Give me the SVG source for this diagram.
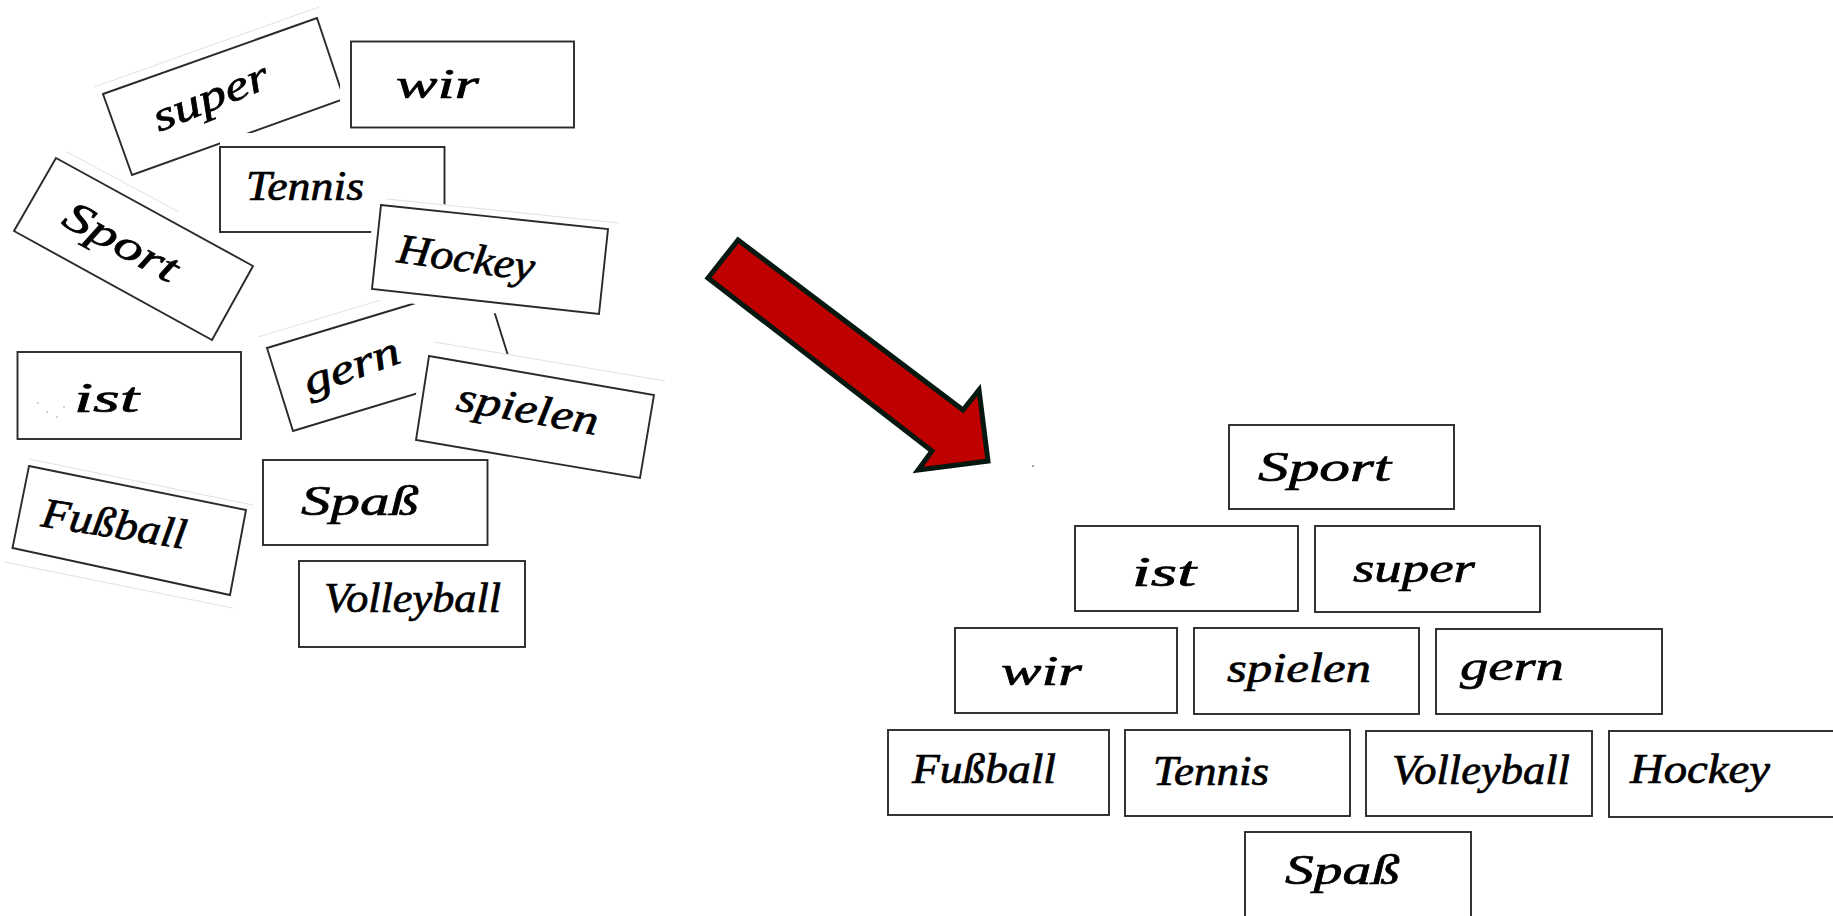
<svg xmlns="http://www.w3.org/2000/svg" width="1833" height="916" viewBox="0 0 1833 916">
<style>
.paper{fill:#fff;stroke:none}
.card{fill:#fff;stroke:#2a2a2a;stroke-width:1.9}
.edge{fill:none;stroke:#d8d8d8;stroke-width:.8}
.speck{fill:#c4c4c4}
.word{font-family:"Liberation Serif","DejaVu Serif",serif;font-style:italic;font-size:42px;fill:#000;stroke:#000;stroke-width:.7}
.head{fill:#bf0000;stroke:#04180f;stroke-width:5;stroke-linejoin:miter}
</style>
<rect width="1833" height="916" fill="#fff"/>
<g id="scattered">
<g id="s-sport"><line class="edge" x1="67" y1="152" x2="179" y2="212"/><polygon class="card" points="56,158 253,266 212,340 14,231"/><text class="word" x="60" y="224" textLength="125" lengthAdjust="spacingAndGlyphs" transform="rotate(28.5 60 224)">Sport</text></g>
<g id="s-super"><line class="edge" x1="94" y1="87" x2="319" y2="7"/><polygon class="card" points="103,94 317,18 344,99 132,175"/><text class="word" x="159" y="132" textLength="122" lengthAdjust="spacingAndGlyphs" transform="rotate(-22 159 132)">super</text></g>
<g id="s-wir"><rect class="paper" x="340" y="30" width="240" height="104"/><rect class="card" x="351" y="41.5" width="223" height="86"/><text class="word" x="396" y="98" textLength="83" lengthAdjust="spacingAndGlyphs">wir</text></g>
<g id="s-tennis"><rect class="paper" x="220" y="133" width="232" height="105"/><rect class="card" x="220" y="147" width="224.500" height="85"/><text class="word" x="246" y="200" textLength="118" lengthAdjust="spacingAndGlyphs">Tennis</text></g>
<g id="s-gern"><line class="edge" x1="258" y1="337" x2="381" y2="300"/><polygon class="card" points="267,348 485,282 511,365 293,431"/><text class="word" x="309" y="396" textLength="100" lengthAdjust="spacingAndGlyphs" transform="rotate(-20 309 396)">gern</text></g>
<g id="s-hockey"><polygon class="paper" points="375,197 619,223 604,326 364,298"/><line class="edge" x1="387" y1="199" x2="619" y2="223"/><polygon class="card" points="381,205 608,229 599,314 372,289"/><text class="word" x="396" y="262" textLength="138" lengthAdjust="spacingAndGlyphs" transform="rotate(8 396 262)">Hockey</text></g>
<g id="s-spielen"><polygon class="paper" points="425,340 665,381 647,490 407,448"/><line class="edge" x1="434" y1="342" x2="665" y2="381"/><polygon class="card" points="429,356 654,395 640,478 416,440"/><text class="word" x="455" y="410" textLength="143" lengthAdjust="spacingAndGlyphs" transform="rotate(10 455 410)">spielen</text></g>
<g id="s-ist"><rect class="card" x="17.500" y="352" width="223.500" height="87"/><circle class="speck" cx="38" cy="403" r="1"/><circle class="speck" cx="47" cy="412" r="1"/><circle class="speck" cx="57" cy="417" r="1"/><circle class="speck" cx="64" cy="407" r="1"/><text class="word" x="74" y="412" textLength="65" lengthAdjust="spacingAndGlyphs">ist</text></g>
<g id="s-fussball"><line class="edge" x1="29" y1="459" x2="253" y2="505"/><line class="edge" x1="4" y1="562" x2="233" y2="608"/><polygon class="card" points="29,466 246,510 230,595 12.500,548"/><text class="word" x="40" y="526" textLength="146" lengthAdjust="spacingAndGlyphs" transform="rotate(9 40 526)">Fußball</text></g>
<g id="s-spass"><rect class="card" x="263" y="460" width="224.500" height="85"/><text class="word" x="301" y="515" textLength="118" lengthAdjust="spacingAndGlyphs">Spaß</text></g>
<g id="s-volleyball"><rect class="card" x="299" y="561" width="226" height="86"/><text class="word" x="324" y="612" textLength="177" lengthAdjust="spacingAndGlyphs">Volleyball</text></g>
</g>
<g id="connectors">
<polygon class="head" points="738,240 708,278 932,451 918,470 988,461 979,390 963,410"/>
</g>
<circle cx="1033" cy="466" r=".9" fill="#777"/>
<g id="pyramid">
<g id="p-sport"><rect class="card" x="1229" y="425" width="225" height="84"/><text class="word" x="1258" y="481" textLength="133" lengthAdjust="spacingAndGlyphs">Sport</text></g>
<g id="p-ist"><rect class="card" x="1075" y="526" width="223" height="85"/><text class="word" x="1132" y="586" textLength="64" lengthAdjust="spacingAndGlyphs">ist</text></g>
<g id="p-super"><rect class="card" x="1315" y="526" width="225" height="86"/><text class="word" x="1353" y="582" textLength="122" lengthAdjust="spacingAndGlyphs">super</text></g>
<g id="p-wir"><rect class="card" x="955" y="628" width="222" height="85"/><text class="word" x="1001" y="685" textLength="81" lengthAdjust="spacingAndGlyphs">wir</text></g>
<g id="p-spielen"><rect class="card" x="1194" y="628" width="225" height="86"/><text class="word" x="1227" y="682" textLength="144" lengthAdjust="spacingAndGlyphs">spielen</text></g>
<g id="p-gern"><rect class="card" x="1436" y="629" width="226" height="85"/><text class="word" x="1460" y="680" textLength="104" lengthAdjust="spacingAndGlyphs">gern</text></g>
<g id="p-fussball"><rect class="card" x="888" y="730" width="221" height="85"/><text class="word" x="912" y="783" textLength="144" lengthAdjust="spacingAndGlyphs">Fußball</text></g>
<g id="p-tennis"><rect class="card" x="1125" y="730" width="225" height="86"/><text class="word" x="1153" y="785" textLength="116" lengthAdjust="spacingAndGlyphs">Tennis</text></g>
<g id="p-volleyball"><rect class="card" x="1366" y="731" width="226" height="85"/><text class="word" x="1392" y="784" textLength="178" lengthAdjust="spacingAndGlyphs">Volleyball</text></g>
<g id="p-hockey"><rect class="card" x="1609" y="731" width="230" height="86"/><text class="word" x="1630" y="783" textLength="140" lengthAdjust="spacingAndGlyphs">Hockey</text></g>
<g id="p-spass"><rect class="card" x="1245" y="832" width="226" height="90"/><text class="word" x="1285" y="884" textLength="115" lengthAdjust="spacingAndGlyphs">Spaß</text></g>
</g>
</svg>
